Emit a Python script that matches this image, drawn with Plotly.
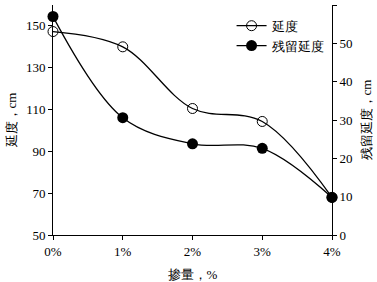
import plotly.graph_objects as go

categories = ["0%", "1%", "2%", "3%", "4%"]
ductility = [147.3, 140, 110.5, 104.3, 68]
residual = [57, 30.6, 23.8, 22.6, 9.8]
left_ticks = [50, 70, 90, 110, 130, 150]
right_ticks = [0, 10, 20, 30, 40, 50, 60]

xs = list(range(len(categories)))
font = "Liberation Serif"

fig = go.Figure()
fig.add_trace(go.Scatter(
    x=xs, y=ductility, name="延度", mode="lines+markers",
    line=dict(color="black", width=1.3, shape="spline", smoothing=1.0),
    marker=dict(symbol="circle-open", size=10, color="black", line=dict(width=1)),
    cliponaxis=False))
fig.add_trace(go.Scatter(
    x=xs, y=residual, name="残留延度", mode="lines+markers", yaxis="y2",
    line=dict(color="black", width=1.3, shape="spline", smoothing=1.0),
    marker=dict(symbol="circle", size=11, color="black"),
    cliponaxis=False))

fig.update_layout(
    width=377, height=282,
    margin=dict(l=53, r=45, t=5, b=47, autoexpand=False),
    paper_bgcolor="white", plot_bgcolor="white",
    font=dict(family=font, size=13, color="black"),
    showlegend=True,
    legend=dict(x=0.64, y=0.975, xanchor="left", yanchor="top",
                bgcolor="rgba(0,0,0,0)", font=dict(size=13), itemwidth=30,
                tracegroupgap=2),
    xaxis=dict(
        range=[0, 4], tickmode="array", tickvals=xs, ticktext=categories,
        showgrid=False, zeroline=False, showline=True, linecolor="black",
        linewidth=1, ticks="outside", ticklen=4, tickcolor="black",
        automargin=False,
        title=dict(text="掺量，%", standoff=12, font=dict(size=13))),
    yaxis=dict(
        range=[50, 160], tickmode="array", tickvals=left_ticks,
        showgrid=False, zeroline=False, showline=True, linecolor="black",
        linewidth=1, ticks="outside", ticklen=4, tickcolor="black",
        automargin=False,
        title=dict(text="延度，cm", standoff=6, font=dict(size=13))),
    yaxis2=dict(
        range=[0, 60], tickmode="array", tickvals=right_ticks,
        overlaying="y", side="right", anchor="x",
        showgrid=False, zeroline=False, showline=True, linecolor="black",
        linewidth=1, ticks="outside", ticklen=4, tickcolor="black",
        automargin=False,
        title=dict(text="残留延度，cm", standoff=10, font=dict(size=13))),
)

fig.write_html("out.html", config={"displayModeBar": False},
               post_script="document.body.style.margin='0px';")
